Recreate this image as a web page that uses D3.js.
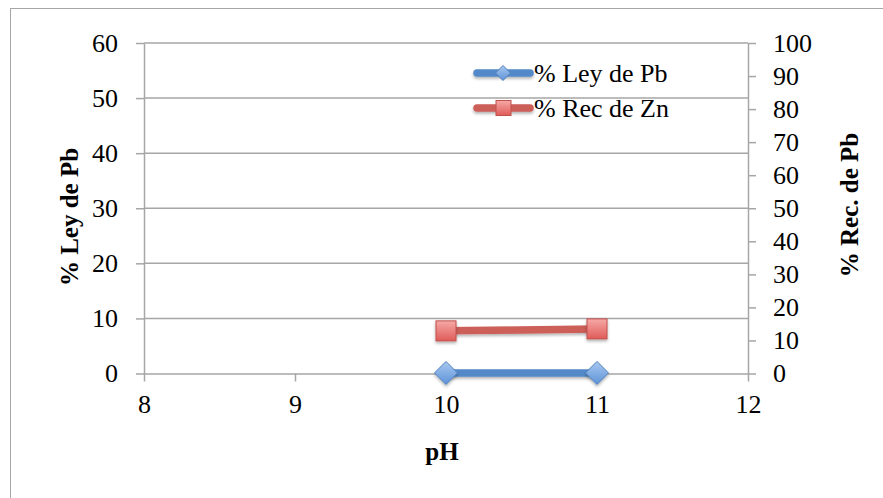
<!DOCTYPE html>
<html>
<head>
<meta charset="utf-8">
<script src="https://cdn.jsdelivr.net/npm/d3@7"></script>
<style>
  html, body { margin: 0; padding: 0; background: #fff; }
  svg { display: block; }
</style>
</head>
<body>
<svg id="chart" width="883" height="498"></svg>
<script>
// pH values and the two measured series
const phValues = [10, 11];
const leyPb = [0.1, 0.1];       // % Ley de Pb (left axis)
const recZn = [12.9, 13.5];     // % Rec de Zn (right axis)
const xTicks = [8, 9, 10, 11, 12];
const leftTicks = [0, 10, 20, 30, 40, 50, 60];
const rightTicks = [0, 10, 20, 30, 40, 50, 60, 70, 80, 90, 100];
const seriesNames = ["% Ley de Pb", "% Rec de Zn"];

const svg = d3.select("#chart");
const W = 883, H = 498;
const plot = { left: 144, right: 748, top: 43, bottom: 373.5 };
const axisColor = "#a6a6a6";
const serif = "'Liberation Serif', 'DejaVu Serif', serif";
const fs = 26;

const defs = svg.append("defs");
const gBlue = defs.append("linearGradient").attr("id", "gBlue").attr("x1", 0).attr("y1", 0).attr("x2", 0).attr("y2", 1);
gBlue.append("stop").attr("offset", "0%").attr("stop-color", "#a9c8f0");
gBlue.append("stop").attr("offset", "100%").attr("stop-color", "#5d93d8");
const gRed = defs.append("linearGradient").attr("id", "gRed").attr("x1", 0).attr("y1", 0).attr("x2", 0).attr("y2", 1);
gRed.append("stop").attr("offset", "0%").attr("stop-color", "#f5a9a7");
gRed.append("stop").attr("offset", "100%").attr("stop-color", "#e05b58");
// shadow filter sized in user space so flat lines keep it
const sh = defs.append("filter").attr("id", "shadow").attr("filterUnits", "userSpaceOnUse")
  .attr("x", 0).attr("y", 0).attr("width", W).attr("height", H);
sh.append("feDropShadow").attr("dx", 0).attr("dy", 2).attr("stdDeviation", 1.5).attr("flood-color", "#000").attr("flood-opacity", 0.3);

// outer frame
svg.append("rect").attr("x", 10.5).attr("y", 8.5).attr("width", W + 10).attr("height", H + 10)
  .attr("fill", "none").attr("stroke", axisColor).attr("stroke-width", 1);

const x = d3.scaleLinear().domain([8, 12]).range([plot.left, plot.right]);
const yL = d3.scaleLinear().domain([0, 60]).range([plot.bottom, plot.top]);
const yR = d3.scaleLinear().domain([0, 100]).range([plot.bottom, plot.top]);

// horizontal gridlines
svg.append("g").selectAll("line").data(leftTicks.filter(d => d > 0)).join("line")
  .attr("x1", plot.left).attr("x2", plot.right)
  .attr("y1", d => yL(d)).attr("y2", d => yL(d))
  .attr("stroke", axisColor).attr("stroke-width", 1.5);

function styleAxis(g) {
  g.select(".domain").attr("stroke", axisColor).attr("stroke-width", 1.5);
  g.selectAll(".tick line").attr("stroke", axisColor).attr("stroke-width", 1.5);
  g.selectAll(".tick text").attr("fill", "#000").attr("font-family", serif).attr("font-size", fs);
}

svg.append("g").attr("transform", `translate(${plot.left},0)`)
  .call(d3.axisLeft(yL).tickValues(leftTicks).tickSize(8).tickSizeOuter(0).tickPadding(18))
  .call(styleAxis);
svg.append("g").attr("transform", `translate(${plot.right},0)`)
  .call(d3.axisRight(yR).tickValues(rightTicks).tickSize(8).tickSizeOuter(0).tickPadding(17))
  .call(styleAxis);
svg.append("g").attr("transform", `translate(0,${plot.bottom})`)
  .call(d3.axisBottom(x).tickValues(xTicks).tickFormat(d3.format("d")).tickSize(8).tickSizeOuter(0).tickPadding(13))
  .call(styleAxis);

// axis titles
svg.append("text").attr("x", (plot.left + plot.right) / 2 - 4).attr("y", 460)
  .attr("text-anchor", "middle").attr("font-family", serif).attr("font-weight", "bold")
  .attr("font-size", 25).text("pH");
svg.append("text").attr("transform", `translate(78,217) rotate(-90)`)
  .attr("text-anchor", "middle").attr("font-family", serif).attr("font-weight", "bold")
  .attr("font-size", 25).text("% Ley de Pb");
svg.append("text").attr("transform", `translate(858,205) rotate(-90)`)
  .attr("text-anchor", "middle").attr("font-family", serif).attr("font-weight", "bold")
  .attr("font-size", 25).text("% Rec. de Pb");

// series lines
const lineL = d3.line().x((d, i) => x(phValues[i])).y(d => yL(d));
const lineR = d3.line().x((d, i) => x(phValues[i])).y(d => yR(d));
svg.append("path").attr("d", lineR(recZn)).attr("fill", "none").attr("stroke", "#cc5e59")
  .attr("stroke-width", 7.5).attr("filter", "url(#shadow)");
svg.append("path").attr("d", lineL(leyPb)).attr("fill", "none").attr("stroke", "#5289c8")
  .attr("stroke-width", 7.5).attr("filter", "url(#shadow)");

const diamond = (cx, cy, r) => `M${cx},${cy - r}L${cx + r},${cy}L${cx},${cy + r}L${cx - r},${cy}Z`;

// markers
svg.append("g").selectAll("rect").data(recZn).join("rect")
  .attr("x", (d, i) => x(phValues[i]) - 10).attr("y", d => yR(d) - 10)
  .attr("width", 20).attr("height", 20)
  .attr("fill", "url(#gRed)").attr("stroke", "#c0504d").attr("stroke-width", 1)
  .attr("filter", "url(#shadow)");
svg.append("g").selectAll("path").data(leyPb).join("path")
  .attr("d", (d, i) => diamond(x(phValues[i]), yL(d), 11.5))
  .attr("fill", "url(#gBlue)").attr("stroke", "#4f81bd").attr("stroke-width", 1)
  .attr("filter", "url(#shadow)");

// legend
const legend = svg.append("g");
const legY = [73, 108];
const legColors = ["#5289c8", "#cc5e59"];
seriesNames.forEach((name, i) => {
  legend.append("line").attr("x1", 477).attr("x2", 530).attr("y1", legY[i]).attr("y2", legY[i])
    .attr("stroke", legColors[i]).attr("stroke-width", 7.5).attr("stroke-linecap", "round")
    .attr("filter", "url(#shadow)");
  if (i === 0) {
    legend.append("path").attr("d", diamond(503, legY[i], 7.5))
      .attr("fill", "url(#gBlue)").attr("stroke", "#4f81bd");
  } else {
    legend.append("rect").attr("x", 496).attr("y", legY[i] - 7.5).attr("width", 15).attr("height", 15)
      .attr("fill", "url(#gRed)").attr("stroke", "#c0504d");
  }
  legend.append("text").attr("x", 534).attr("y", legY[i] + 9).attr("font-family", serif)
    .attr("font-size", fs).attr("fill", "#000").text(name);
});
</script>
</body>
</html>
